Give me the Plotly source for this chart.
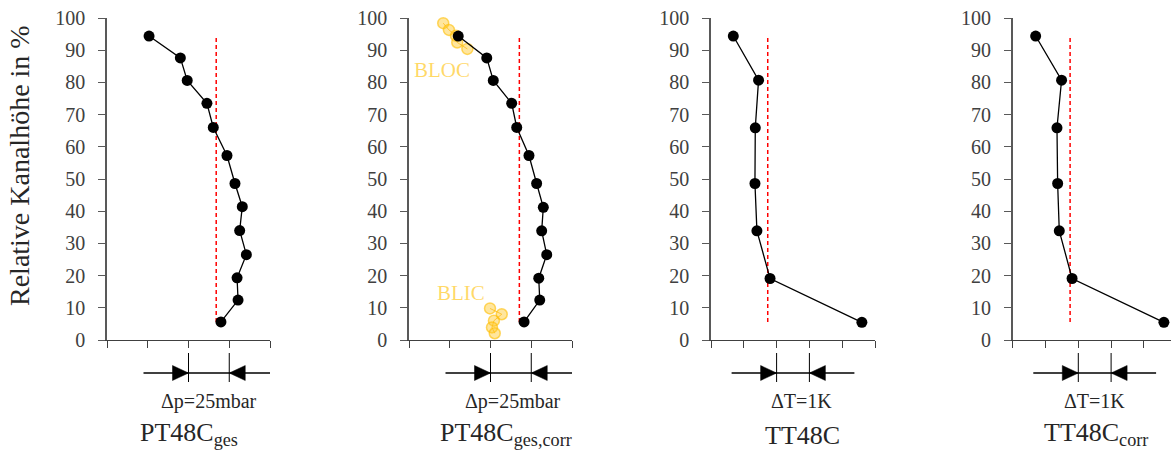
import plotly.graph_objects as go

# ---- measured profiles (relative channel height in %) ----
# PT48C_ges : pressure offset in mbar
pt_ges_x = [25.8, 45.0, 49.2, 61.3, 65.2, 73.6, 78.5, 83.0, 81.4, 85.5, 79.8, 80.4, 69.9]
pt_ges_y = [94.4, 87.6, 80.6, 73.5, 66.0, 57.3, 48.6, 41.4, 34.0, 26.5, 19.3, 12.4, 5.6]
pt_ges_mean = 67.0

# PT48C_ges,corr : corrected pressure offset in mbar
pt_corr_x = [30.2, 47.7, 51.7, 63.0, 66.1, 73.6, 78.3, 82.4, 81.4, 84.5, 79.6, 80.2, 70.6]
pt_corr_y = [94.4, 87.6, 80.6, 73.5, 66.0, 57.3, 48.6, 41.2, 33.9, 26.5, 19.2, 12.4, 5.6]
pt_corr_mean = 67.7

# boundary layer probes (outer / inner casing)
bloc_x = [21.0, 24.5, 28.8, 29.6, 35.8]
bloc_y = [98.4, 96.3, 94.5, 92.4, 90.4]
blic_x = [49.7, 56.9, 52.1, 50.9, 52.6]
blic_y = [9.8, 8.0, 6.0, 3.9, 2.1]

# TT48C : temperature offset in K
tt_x = [0.68, 1.45, 1.35, 1.34, 1.40, 1.80, 4.60]
tt_y = [94.4, 80.7, 65.9, 48.6, 33.9, 19.1, 5.5]
tt_mean = 1.73

# TT48C_corr : corrected temperature offset in K
tt_corr_x = [0.70, 1.49, 1.35, 1.37, 1.42, 1.81, 4.61]
tt_corr_y = [94.4, 80.7, 65.9, 48.6, 33.9, 19.1, 5.5]
tt_corr_mean = 1.75

mean_span = [5.6, 94.0]

y_ticks = list(range(0, 101, 10))
p_ticks = [0, 25, 50, 75, 100]
t_ticks = [0, 1, 2, 3, 4, 5]

# scale bars below each panel: (left tick, right tick, label)
p_bar = (50, 75, "Δp=25mbar")
t_bar = (2, 3, "ΔT=1K")

titles = ["PT48C<sub>ges</sub>", "PT48C<sub>ges,corr</sub>", "TT48C", "TT48C<sub>corr</sub>"]

FONT = "Liberation Serif"
TXT = "#404040"
W, H = 1171, 455

fig = go.Figure()

panels = [
    (pt_ges_x, pt_ges_y, pt_ges_mean, [0, 100], p_ticks, (107, 270), p_bar),
    (pt_corr_x, pt_corr_y, pt_corr_mean, [0, 100], p_ticks, (409, 572), p_bar),
    (tt_x, tt_y, tt_mean, [0, 5], t_ticks, (711, 875), t_bar),
    (tt_corr_x, tt_corr_y, tt_corr_mean, [0, (W - 1012.7) / 32.8], t_ticks, (1012.7, W), t_bar),
]

title_x = [50, 59.2, 2.8, 2.54]
label_x = [62.5, 64.0, 2.75, 2.5]

y_dom = [1 - 340 / H, 1 - 18 / H]
bar_y = 1 - 373 / H
tick_lo, tick_hi = 1 - 382 / H, 1 - 353 / H

for i, (xs, ys, mean, xr, xt, (px0, px1), bar) in enumerate(panels):
    n = i + 1
    xa = "x" if n == 1 else f"x{n}"
    ya = "y" if n == 1 else f"y{n}"

    # mean value (red dashed)
    fig.add_trace(go.Scatter(
        x=[mean, mean], y=mean_span, mode="lines",
        line=dict(color="#FF0000", width=1.5, dash="4px,3px"),
        xaxis=xa, yaxis=ya, hoverinfo="skip"))

    if n == 2:
        for bx, by in [(bloc_x, bloc_y), (blic_x, blic_y)]:
            fig.add_trace(go.Scatter(
                x=bx, y=by, mode="lines+markers", cliponaxis=False,
                line=dict(color="rgba(255,175,0,0.75)", width=1),
                marker=dict(size=11, color="rgba(255,200,40,0.45)",
                            line=dict(color="rgba(255,190,0,0.6)", width=1.5)),
                xaxis=xa, yaxis=ya))

    fig.add_trace(go.Scatter(
        x=xs, y=ys, mode="lines+markers", cliponaxis=False,
        line=dict(color="black", width=1.3),
        marker=dict(size=11, color="black"),
        xaxis=xa, yaxis=ya))

    axis_x = dict(
        domain=[px0 / W, px1 / W], range=xr, tickvals=xt, showticklabels=False,
        ticks="outside", ticklen=7, tickwidth=1.3, tickcolor="#404040",
        showline=True, linecolor="#404040", linewidth=1.3, automargin=False,
        showgrid=False, zeroline=False, anchor=ya, fixedrange=True)
    axis_y = dict(
        domain=y_dom, range=[0, 100], tickvals=y_ticks,
        ticks="outside", ticklen=7, tickwidth=1.3, tickcolor="#595959",
        showline=True, linecolor="#595959", linewidth=1.5, automargin=False,
        showgrid=False, zeroline=False, anchor=xa, ticklabelstandoff=9,
        tickfont=dict(family=FONT, size=20, color=TXT), fixedrange=True)
    fig.layout["xaxis" if n == 1 else f"xaxis{n}"] = axis_x
    fig.layout["yaxis" if n == 1 else f"yaxis{n}"] = axis_y

    # scale bar
    a, b, lab = bar
    blk = dict(color="black", width=1.3)
    fig.add_shape(type="line", xref=xa, yref="paper", x0=a, x1=b, y0=bar_y, y1=bar_y, line=blk)
    fig.add_shape(type="line", xref=xa, yref="paper", xsizemode="pixel", xanchor=a,
                  x0=-45, x1=0, y0=bar_y, y1=bar_y, line=blk)
    fig.add_shape(type="line", xref=xa, yref="paper", xsizemode="pixel", xanchor=b,
                  x0=0, x1=45, y0=bar_y, y1=bar_y, line=blk)
    for v in (a, b):
        fig.add_shape(type="line", xref=xa, yref="paper", x0=v, x1=v,
                      y0=tick_lo, y1=tick_hi, line=dict(color="black", width=1))
    fig.add_shape(type="path", xref=xa, yref="paper", xsizemode="pixel", ysizemode="pixel",
                  xanchor=a, yanchor=bar_y, path="M -16,-7.5 L 0,0 L -16,7.5 Z",
                  fillcolor="black", line=dict(color="black", width=0.5))
    fig.add_shape(type="path", xref=xa, yref="paper", xsizemode="pixel", ysizemode="pixel",
                  xanchor=b, yanchor=bar_y, path="M 16,-7.5 L 0,0 L 16,7.5 Z",
                  fillcolor="black", line=dict(color="black", width=0.5))
    fig.add_annotation(x=label_x[i], xref=xa, y=1 - 401 / H, yref="paper", text=lab,
                       showarrow=False, xanchor="center", yanchor="middle",
                       font=dict(family=FONT, size=20, color="#262626"))
    fig.add_annotation(x=title_x[i], xref=xa, y=1 - 452 / H, yref="paper", text=titles[i],
                       showarrow=False, xanchor="center", yanchor="bottom",
                       font=dict(family=FONT, size=26, color="#262626"))

# boundary layer labels
fig.add_annotation(x=20, xref="x2", y=83.9, yref="y2", text="BLOC", showarrow=False,
                   font=dict(family=FONT, size=21, color="rgba(255,192,0,0.6)"))
fig.add_annotation(x=31.6, xref="x2", y=14.6, yref="y2", text="BLIC", showarrow=False,
                   font=dict(family=FONT, size=21, color="rgba(255,192,0,0.6)"))

# y axis title
fig.add_annotation(x=19 / W, xref="paper", y=1 - 166 / H, yref="paper",
                   text="Relative Kanalhöhe in %", textangle=-90, showarrow=False,
                   xanchor="center", yanchor="middle",
                   font=dict(family=FONT, size=28, color="#262626"))

fig.update_layout(width=W, height=H, margin=dict(l=0, r=0, t=0, b=0, pad=0),
                  paper_bgcolor="white", plot_bgcolor="white", showlegend=False)

fig.write_html("out.html")
